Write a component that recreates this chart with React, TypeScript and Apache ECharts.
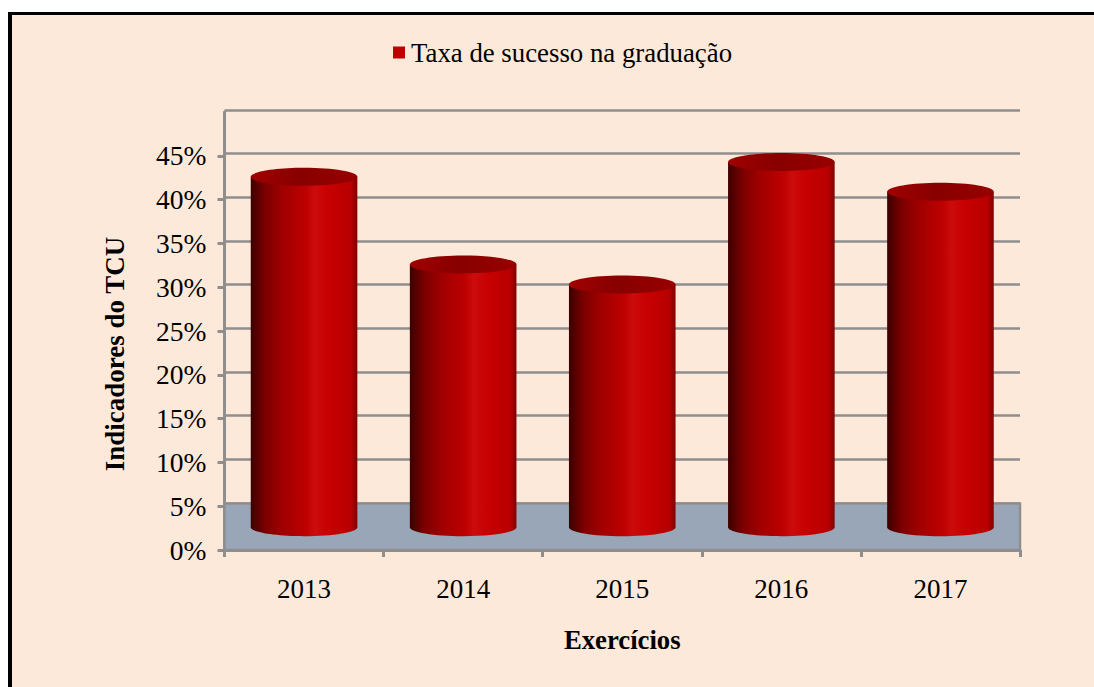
import React, { useEffect, useRef } from "react";
import * as echarts from "echarts";

const categories = ["2013", "2014", "2015", "2016", "2017"];
const rates = [42.6, 32.6, 30.3, 44.3, 40.9];
const cylinderBase = 2.6;
const floorTop = 5.3;
const seriesName = "Taxa de sucesso na graduação";
const FONT = '"Liberation Serif", serif';
const GRAY = "#8E8E8E";

const cylinderGradient = {
  type: "linear", x: 0, y: 0, x2: 1, y2: 0,
  colorStops: [
    { offset: 0, color: "#3C0000" },
    { offset: 0.14, color: "#7C0000" },
    { offset: 0.3, color: "#A00000" },
    { offset: 0.52, color: "#BE0000" },
    { offset: 0.6, color: "#CC0C0C" },
    { offset: 0.72, color: "#C80000" },
    { offset: 0.94, color: "#B80000" },
    { offset: 1, color: "#800000" },
  ],
};
const capGradient = {
  type: "linear", x: 0, y: 0, x2: 1, y2: 0,
  colorStops: [
    { offset: 0, color: "#A00000" },
    { offset: 0.45, color: "#880000" },
    { offset: 1, color: "#980000" },
  ],
};

function renderCylinder(_: any, api: any) {
  const top = api.coord([api.value(0), api.value(1)]);
  const base = api.coord([api.value(0), cylinderBase]);
  const w = api.size([1, 0])[0] * 0.67;
  const rx = w / 2;
  const ry = 9;
  const k = 0.5523;
  const cx = top[0];
  const d = [
    `M${cx - rx} ${top[1]}`,
    `L${cx - rx} ${base[1]}`,
    `C${cx - rx} ${base[1] + ry * k} ${cx - rx * k} ${base[1] + ry} ${cx} ${base[1] + ry}`,
    `C${cx + rx * k} ${base[1] + ry} ${cx + rx} ${base[1] + ry * k} ${cx + rx} ${base[1]}`,
    `L${cx + rx} ${top[1]}`,
    "Z",
  ].join(" ");
  return {
    type: "group",
    children: [
      { type: "path", shape: { pathData: d }, style: { fill: cylinderGradient } },
      { type: "ellipse", shape: { cx, cy: top[1], rx, ry }, style: { fill: capGradient } },
    ],
  };
}

function renderFloor(params: any, api: any) {
  const cs = params.coordSys;
  const y = api.coord([0, floorTop])[1];
  return {
    type: "rect",
    shape: { x: cs.x, y, width: cs.width, height: cs.y + cs.height - y },
    style: { fill: "#98A6B8", stroke: GRAY, lineWidth: 2.5 },
  };
}

export default function App() {
  const ref = useRef<HTMLDivElement>(null);
  useEffect(() => {
    document.body.style.margin = "0";
    const chart = echarts.init(ref.current!, undefined, { renderer: "svg" });
    chart.setOption({
      animation: false,
      backgroundColor: "#FFFFFF",
      textStyle: { fontFamily: FONT, color: "#000" },
      graphic: [
        { type: "rect", z: -10, shape: { x: 8, y: 12, width: 1086, height: 675 }, style: { fill: "#000" } },
        { type: "rect", z: -9, shape: { x: 12, y: 15, width: 1082, height: 672 }, style: { fill: "#FDE9D9" } },
      ],
      legend: {
        data: [seriesName],
        left: 388,
        top: 34,
        icon: "rect",
        itemWidth: 12,
        itemHeight: 12,
        itemGap: 6,
        textStyle: { fontFamily: FONT, fontSize: 26.8, color: "#000", padding: [0, 0, 0, 1] },
      },
      grid: [
        { left: 224.5, right: 74, top: 112, bottom: 137 },
        { left: 224.5, right: 74, top: 110, bottom: 184 },
      ],
      xAxis: [
        {
          type: "category", gridIndex: 0, data: categories,
          axisLine: { lineStyle: { color: GRAY, width: 3 } },
          axisTick: { show: true, length: 7, alignWithLabel: false, lineStyle: { color: GRAY, width: 3 } },
          axisLabel: { fontFamily: FONT, fontSize: 27, color: "#000", margin: 25 },
          name: "Exercícios", nameLocation: "middle", nameGap: 76,
          nameTextStyle: { fontFamily: FONT, fontSize: 26.7, fontWeight: "bold", color: "#000" },
        },
        {
          type: "category", gridIndex: 1, data: categories, show: false,
        },
      ],
      yAxis: [
        {
          type: "value", gridIndex: 0, min: 0, max: 50, interval: 5,
          axisLine: { show: true, lineStyle: { color: GRAY, width: 3 } },
          axisTick: { show: true, length: 7, lineStyle: { color: GRAY, width: 3 } },
          splitLine: { show: false },
          axisLabel: { fontFamily: FONT, fontSize: 27.5, color: "#000", margin: 18, formatter: "{value}%", showMaxLabel: false },
          name: "Indicadores do TCU", nameLocation: "middle", nameGap: 96,
          nameTextStyle: { fontFamily: FONT, fontSize: 27, fontWeight: "bold", color: "#000", padding: [0, 46, 0, 0] },
        },
        {
          type: "value", gridIndex: 1, min: 5, max: 50, interval: 5,
          axisLine: { show: false }, axisTick: { show: false }, axisLabel: { show: false },
          splitLine: { show: true, lineStyle: { color: GRAY, width: 2.5 } },
        },
      ],
      series: [
        {
          type: "custom", name: "Piso", xAxisIndex: 0, yAxisIndex: 0, z: 1, silent: true,
          renderItem: renderFloor, data: [[0, floorTop]], encode: { x: 0, y: 1 },
        },
        {
          type: "custom", name: seriesName, xAxisIndex: 0, yAxisIndex: 0, z: 3,
          itemStyle: { color: "#C00000" },
          renderItem: renderCylinder,
          data: categories.map((c, i) => [i, rates[i]]),
          encode: { x: 0, y: 1 },
        },
      ],
    });
    return () => chart.dispose();
  }, []);
  return <div ref={ref} style={{ width: 1094, height: 687 }} />;
}
